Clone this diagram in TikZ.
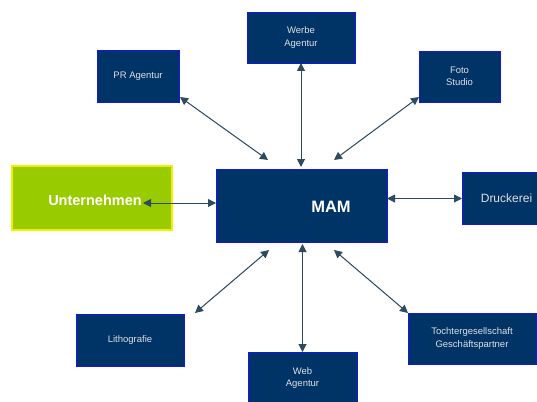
\documentclass[tikz,border=0pt]{standalone}
\usepackage{fontspec}
\setmainfont{Liberation Sans}
\usepackage{tikz}
\usetikzlibrary{arrows.meta,calc}

\definecolor{mamblue}{RGB}{0,51,102}
\definecolor{frameblue}{RGB}{20,20,235}
\definecolor{firmgreen}{RGB}{153,204,0}
\definecolor{firmframe}{RGB}{240,240,0}
\definecolor{linkgray}{RGB}{46,74,94}
\definecolor{labelgray}{RGB}{225,225,225}

\begin{document}
\begin{tikzpicture}[x=1pt, y=-1pt,
    partner/.style={rectangle, draw=frameblue, fill=mamblue, line width=0.9pt, inner sep=0pt, outer sep=0pt, text=labelgray, align=center, font=\fontsize{9.5}{12.5}\selectfont},
    hub/.style={rectangle, draw=frameblue, fill=mamblue, line width=0.9pt, inner sep=0pt, outer sep=0pt, minimum width=171pt, minimum height=73pt},
    firm/.style={rectangle, draw=firmframe, fill=firmgreen, line width=1.2pt, inner sep=0pt, outer sep=0pt, minimum width=160pt, minimum height=64pt},
    boldlabel/.style={text=white, font=\fontsize{#1}{#1}\selectfont\bfseries},
    link/.style={{Triangle[length=8pt,width=8pt]}-{Triangle[length=8pt,width=8pt]}, draw=linkgray, fill=linkgray, line width=1pt}
]
\useasboundingbox (0,0) rectangle (537,401);

% Centre
\node[hub] (mam) at (301.5, 205.5) {};
\node[boldlabel=16.5] (mamtext) at (331, 207) {MAM};

% Company - left
\node[firm] (firm) at (92, 198) {};
\node[boldlabel=14.5] (firmtext) at (95, 200) {Unternehmen};

% Partners - top row
\node[partner, minimum width=82pt, minimum height=52pt] (pr) at (138, 76) {PR Agentur};
\node[partner, minimum width=108pt, minimum height=51pt] (werbe) at (301, 37.5) {Werbe\\Agentur};
\node[partner, minimum width=81pt, minimum height=51pt] (foto) at (459.5, 76.5) {Foto\\Studio};

% Partner - right
\node[partner, minimum width=89pt, minimum height=52pt, font=\fontsize{12}{14}\selectfont] (druck) at (506.5, 198.5) {Druckerei};

% Partners - bottom row
\node[partner, minimum width=108pt, minimum height=52pt] (litho) at (130, 340) {Lithografie};
\node[partner, minimum width=109pt, minimum height=52pt] (web) at (302.5, 378) {Web\\Agentur};
\node[partner, minimum width=128pt, minimum height=51pt] (tochter) at (472, 338.5) {Tochtergesellschaft\\Gesch\"aftspartner};

% Links to the centre
\draw[link] ([xshift=1pt,yshift=5pt]pr.south east) -- ([xshift=52pt,yshift=9pt]mam.north west);
\draw[link] (werbe.south) -- ([yshift=2pt]werbe.south |- mam.north);
\draw[link] ([yshift=5pt]foto.south west) -- ([xshift=-53pt,yshift=9pt]mam.north east);
\draw[link] ([xshift=-29pt,yshift=-5pt]firm.east) -- ([yshift=-5pt]firm.east -| mam.west);
\draw[link] (druck.west -| mam.east) -- (druck.west);
\draw[link] ([xshift=11pt,yshift=1pt]litho.north east) -- ([xshift=53pt,yshift=-8pt]mam.south west);
\draw[link] ([yshift=-2pt]web.north |- mam.south) -- (web.north);
\draw[link] ([xshift=-53pt,yshift=-8pt]mam.south east) -- (tochter.north west);

\end{tikzpicture}
\end{document}
